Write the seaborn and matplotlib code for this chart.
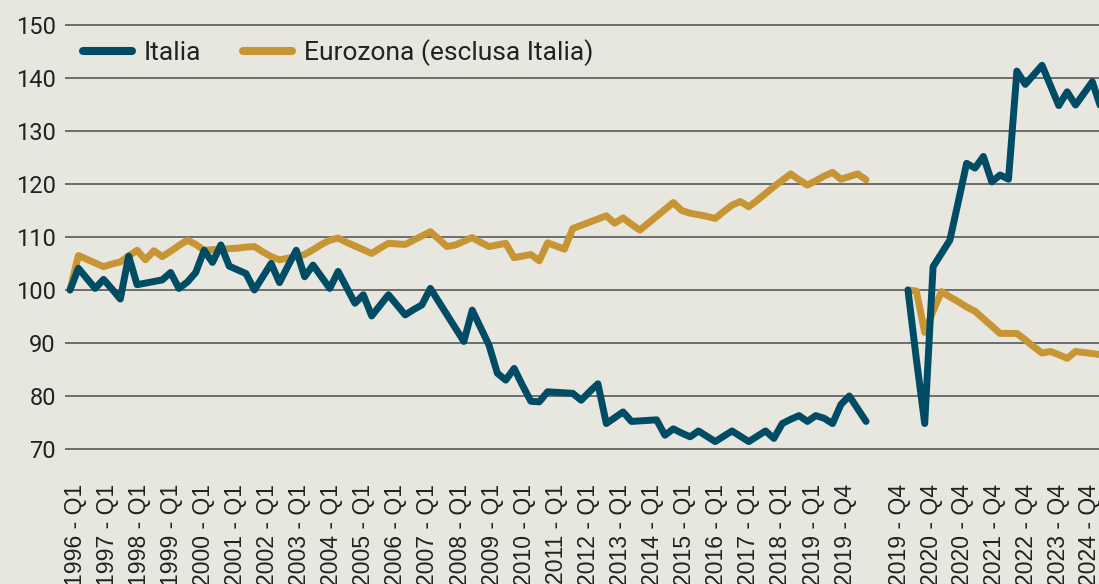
import numpy as np
import pandas as pd
import matplotlib
matplotlib.use('Agg')
import matplotlib.pyplot as plt
import seaborn as sns
from matplotlib.lines import Line2D

# --- Dati (indice, base 100) ---
# tratto 1: trimestrale 1996 Q1 - 2019 Q4
ita_1 = [100, 104.1, 102.2, 100.3, 102, 100.2, 98.3, 106.4, 101, 101.3,
         101.6, 101.9, 103.3, 100.3, 101.5, 103.3, 107.5, 105.2, 108.5, 104.5,
         103.8, 103.1, 100, 102.5, 105, 101.4, 104.5, 107.5, 102.5, 104.7,
         102.5, 100.3, 103.5, 100.5, 97.5, 99.1, 95.1, 97.1, 99.1, 97.2,
         95.3, 96.3, 97.2, 100.3, 97.8, 95.3, 92.8, 90.3, 96.2, 92.9,
         89.6, 84.3, 83, 85.2, 82, 79, 78.9, 80.8, 80.7, 80.6,
         80.5, 79.2, 80.8, 82.3, 74.8, 75.9, 77, 75.2, 75.3, 75.4,
         75.5, 72.6, 73.8, 73.0, 72.3, 73.4, 72.4, 71.4, 72.4, 73.4,
         72.4, 71.4, 72.4, 73.4, 72, 74.8, 75.6, 76.3, 75.2, 76.3,
         75.8, 74.8, 78.4, 80, 77.6, 75.2]
euro_1 = [100, 106.5, 105.8, 105.1, 104.4, 104.9, 105.3, 106.4, 107.5, 105.7,
          107.4, 106.3, 107.3, 108.4, 109.4, 108.6, 107.5, 107.6, 107.7, 107.8,
          107.9, 108.1, 108.2, 107.2, 106.3, 105.7, 106, 106.3, 106.7, 107.6,
          108.6, 109.4, 109.8, 109.0, 108.3, 107.6, 106.9, 107.9, 108.8, 108.7,
          108.6, 109.4, 110.2, 111, 109.6, 108.2, 108.5, 109.2, 109.9, 109.0,
          108.2, 108.5, 108.8, 106.1, 106.4, 106.7, 105.5, 108.9, 108.3, 107.7,
          111.6, 112.2, 112.8, 113.4, 114, 112.6, 113.6, 112.4, 111.3, 112.6,
          113.9, 115.2, 116.5, 115, 114.5, 114.2, 113.9, 113.5, 114.8, 116,
          116.7, 115.7, 116.9, 118.2, 119.5, 120.7, 121.9, 120.8, 119.8, 120.6,
          121.5, 122.2, 120.9, 121.4, 121.9, 120.8]

# tratto 2: trimestrale da 2019 Q4 (nuova base 100)
ita_2 = [100, 87, 74.8, 104.4, 106.9, 109.4, 116.6, 123.9, 123, 125.2,
         120.4, 121.7, 120.9, 141.3, 138.8, 140.6, 142.4, 138.6, 134.8, 137.4,
         134.9, 137.1, 139.3, 134.5]
euro_2 = [100, 99.8, 92, 96, 99.7, 98.7, 97.8, 96.8, 96, 94.6,
          93.2, 91.8, 91.8, 91.8, 90.6, 89.3, 88.1, 88.4, 87.8, 87.1,
          88.4, 88.2, 88, 87.8]

labels_1 = [f'{y} - Q1' for y in range(1996, 2020)] + ['2019 - Q4']
labels_2 = ['2019 - Q4', '2020 - Q4', '2020 - Q4', '2021 - Q4',
            '2022 - Q4', '2023 - Q4', '2024 - Q4']

SERIE_ITA = 'Italia'
SERIE_EUR = 'Eurozona (esclusa Italia)'

BG = '#e7e6df'
BLUE = '#004c64'
GOLD = '#c89534'
GRID = '#6d6d6d'
TXT = '#222222'

GAP = 4  # posizioni vuote tra i due tratti
start_2 = len(ita_1) + GAP


def tratto(vals, start, serie, nome):
    return pd.DataFrame({'pos': start + np.arange(len(vals)), 'val': vals,
                         'serie': serie, 'tratto': nome})


df = pd.concat([
    tratto(euro_1, 0, SERIE_EUR, 'a'),
    tratto(euro_2, start_2, SERIE_EUR, 'b'),
    tratto(ita_1, 0, SERIE_ITA, 'a'),
    tratto(ita_2, start_2, SERIE_ITA, 'b'),
], ignore_index=True)

sns.set_theme(style='white')
plt.rcParams['font.family'] = ['Roboto', 'DejaVu Sans']

W, H = 1099, 584
fig = plt.figure(figsize=(W / 100, H / 100), dpi=100, facecolor=BG)
ax = fig.add_axes([65 / W, 1 - 464.9 / H, 1 - 65 / W, (464.9 - 14.4) / H])
ax.set_facecolor(BG)

for serie, col in [(SERIE_EUR, GOLD), (SERIE_ITA, BLUE)]:
    sns.lineplot(data=df[df['serie'] == serie], x='pos', y='val',
                 units='tratto', estimator=None, color=col, linewidth=5,
                 legend=False, ax=ax, solid_joinstyle='round',
                 solid_capstyle='round')

ax.set_xlim(-0.6, 122.8)
ax.set_ylim(67, 152)
ax.set_xlabel('')
ax.set_ylabel('')

ax.set_yticks(range(70, 151, 10))
ax.yaxis.grid(True, color=GRID, linewidth=1.4)
ax.xaxis.grid(False)
ax.set_axisbelow(True)
ax.tick_params(axis='y', length=0, pad=6.5, labelsize=17, labelcolor=TXT)

# etichette come nell'originale: passo un po' piu' stretto di un anno
pos_1 = np.linspace(0.6, 92.5, len(labels_1))
pos_2 = np.linspace(start_2 - 1, start_2 + 21.7, len(labels_2))
ax.set_xticks(np.concatenate([pos_1, pos_2]))
ax.set_xticklabels(labels_1 + labels_2, rotation=90, fontsize=16.6,
                   family='Liberation Sans', color=TXT)
ax.tick_params(axis='x', length=0, pad=13.5)

for s in ax.spines.values():
    s.set_visible(False)

handles = [Line2D([], [], color=BLUE, lw=5.8, solid_capstyle='round'),
           Line2D([], [], color=GOLD, lw=5.8, solid_capstyle='round')]
fig.legend(handles, [SERIE_ITA, SERIE_EUR], loc='center left',
           bbox_to_anchor=(83 / W, 1 - 53 / H), ncol=2, frameon=False,
           handlelength=1.85, handletextpad=0.45, columnspacing=1.6,
           borderpad=0, borderaxespad=0, labelcolor=TXT,
           prop={'family': 'Roboto', 'size': 19})

fig.savefig('out.png', dpi=100, facecolor=BG)
